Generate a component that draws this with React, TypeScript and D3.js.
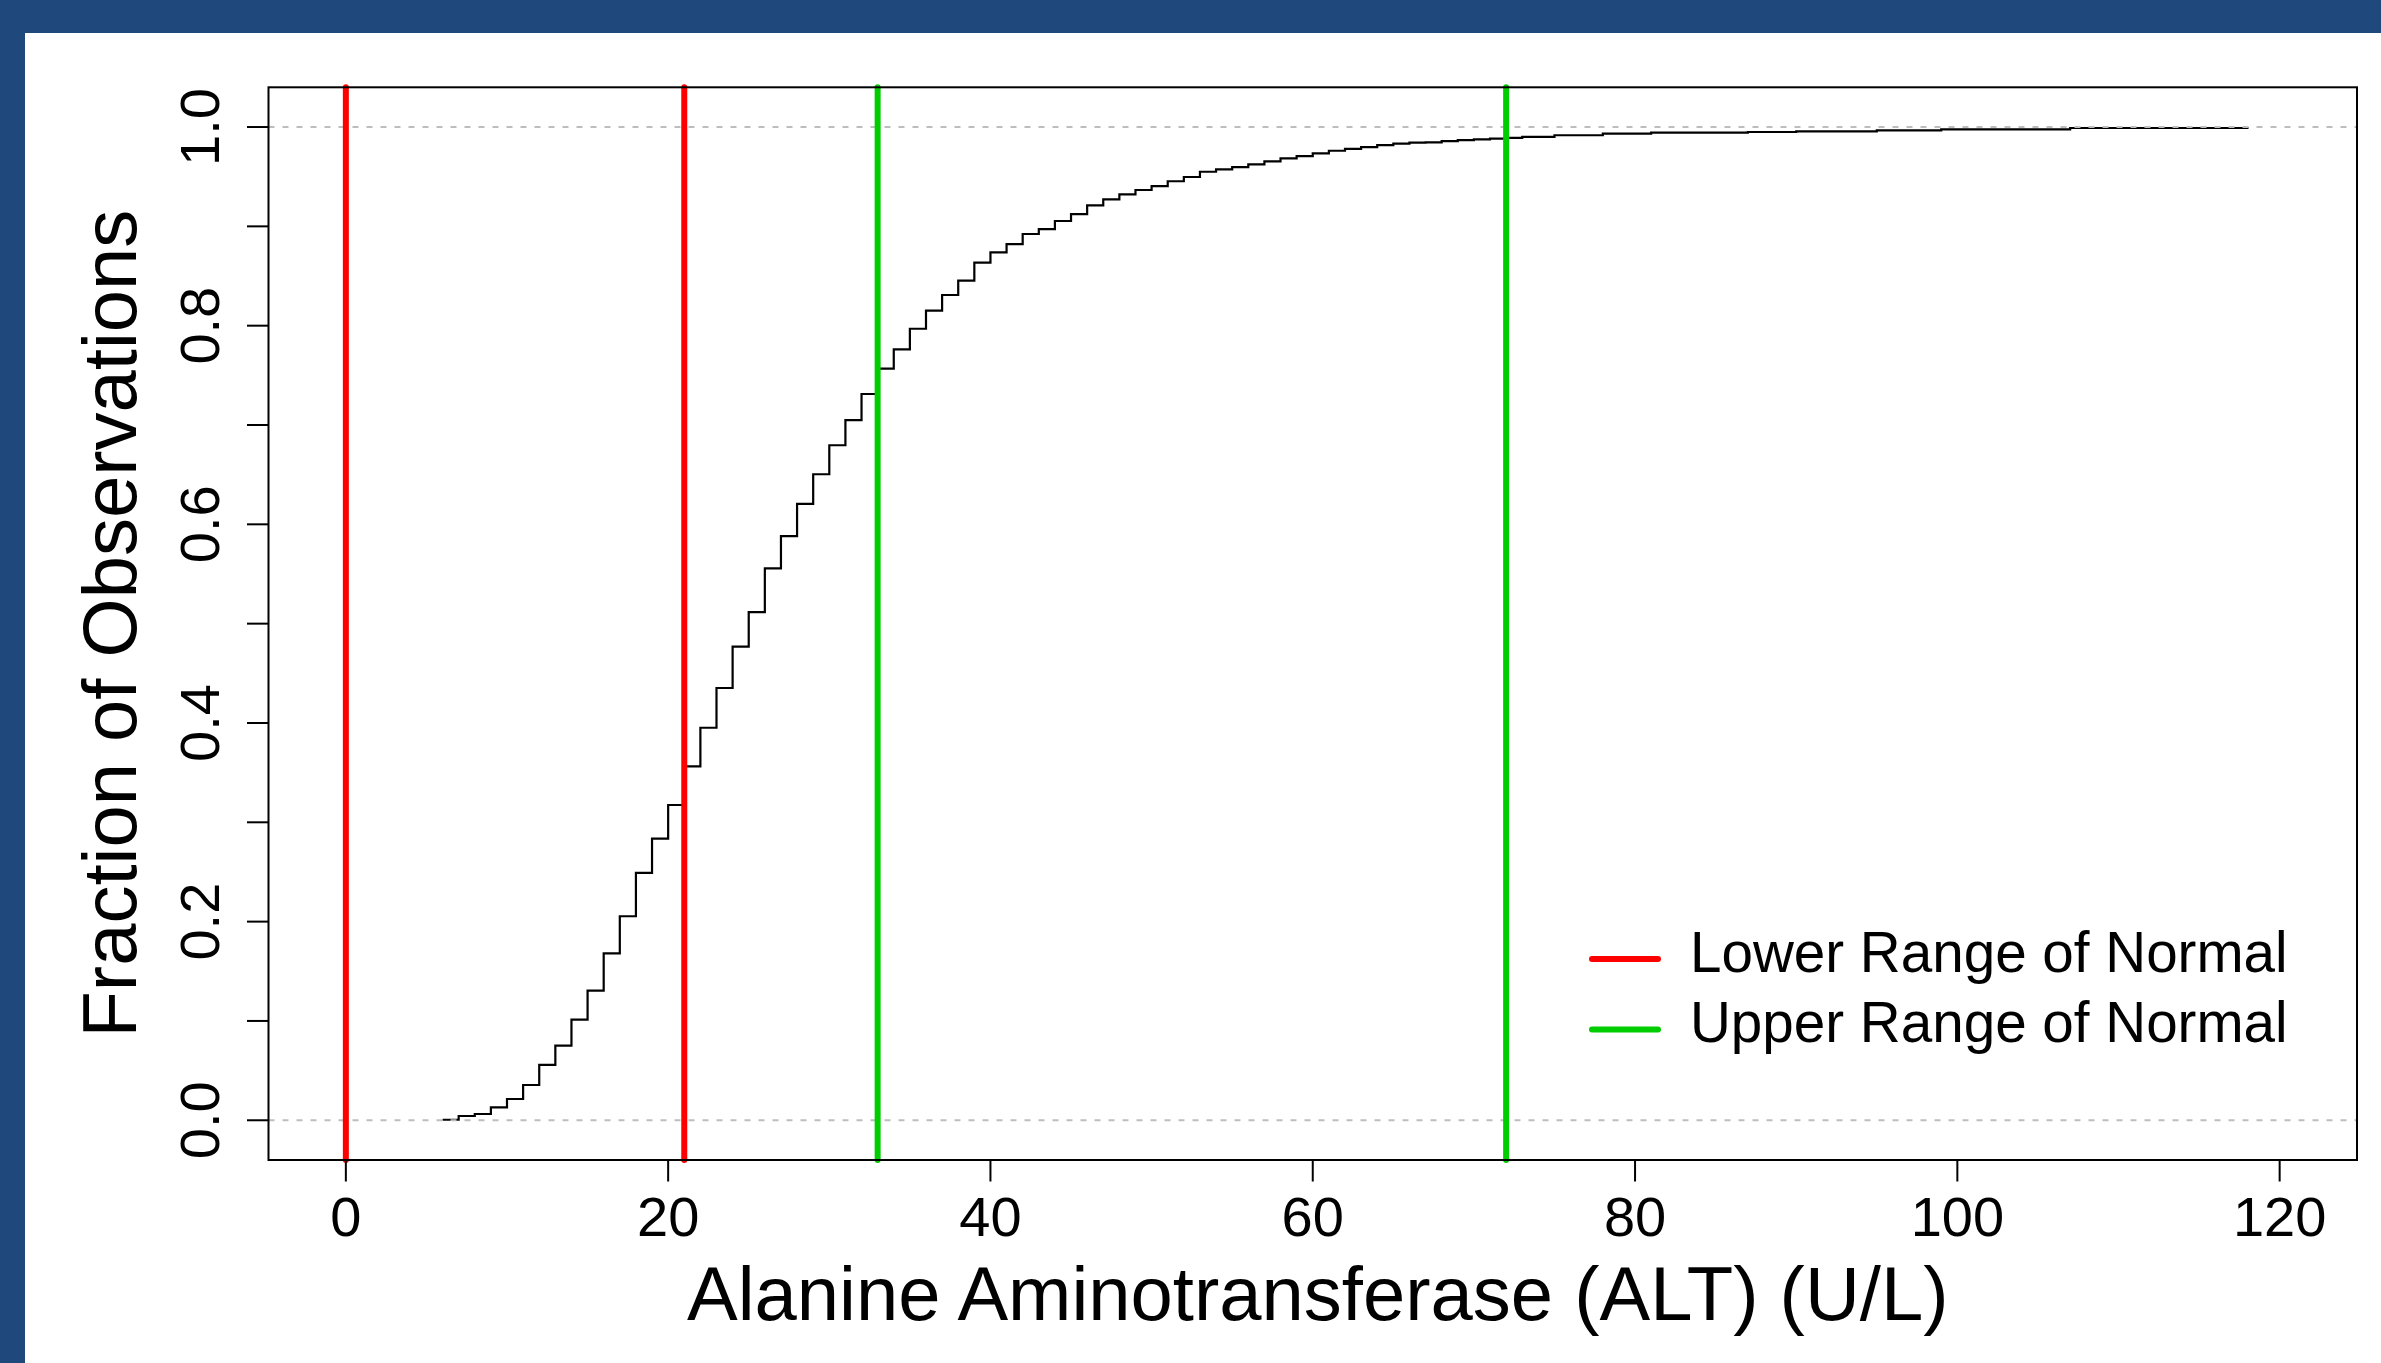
import React from "react";
import * as d3 from "d3";

// ALT value (U/L) at each ECDF knot
const altValues = [
  6, 7, 8, 9, 10, 11, 12, 13, 14, 15, 16, 17, 18, 19, 20, 21, 22, 23, 24, 25,
  26, 27, 28, 29, 30, 31, 32, 33, 34, 35, 36, 37, 38, 39, 40, 41, 42, 43, 44, 45,
  46, 47, 48, 49, 50, 51, 52, 53, 54, 55, 56, 57, 58, 59, 60, 61, 62, 63, 64, 65,
  66, 67, 68, 69, 70, 71, 72, 73, 75, 78, 81, 87, 90, 95, 99, 107, 118,
];
// cumulative fraction of observations at each knot
const cumFraction = [
  0.0005, 0.0043, 0.0063, 0.013, 0.0214, 0.0355, 0.0557, 0.0751, 0.1013, 0.1305,
  0.1681, 0.2054, 0.249, 0.2835, 0.3174, 0.3564, 0.3952, 0.4352, 0.4768, 0.5117,
  0.5557, 0.5882, 0.6205, 0.6504, 0.6796, 0.705, 0.7312, 0.7567, 0.7762, 0.7969,
  0.8151, 0.8309, 0.8453, 0.8634, 0.8738, 0.8822, 0.8923, 0.8973, 0.9054, 0.9124,
  0.9211, 0.9272, 0.9322, 0.9366, 0.9406, 0.9454, 0.9497, 0.955, 0.9574, 0.9597,
  0.9624, 0.9654, 0.9684, 0.9708, 0.9735, 0.9761, 0.9781, 0.9798, 0.9818, 0.9832,
  0.9842, 0.9846, 0.9859, 0.9869, 0.9876, 0.9883, 0.989, 0.99, 0.9917, 0.9934,
  0.9944, 0.995, 0.9957, 0.9967, 0.9977, 0.999, 1.0,
];

const lowerNormal = [0, 21];
const upperNormal = [33, 72];
const xTicks = [0, 20, 40, 60, 80, 100, 120];
const yTicks = [0, 0.1, 0.2, 0.3, 0.4, 0.5, 0.6, 0.7, 0.8, 0.9, 1.0];
const yLabelTicks = [0, 0.2, 0.4, 0.6, 0.8, 1.0];
const legendItems = ["Lower Range of Normal", "Upper Range of Normal"];

const W = 2381;
const H = 1363;
const FONT = "'Liberation Sans', Arial, Helvetica, sans-serif";
const RED = "#FF0000";
const GREEN = "#00CD00";
const BORDER = "#1F497D";

export default function App() {
  const left = 268.5;
  const right = 2357;
  const top = 87.3;
  const bottom = 1160;

  const x = d3.scaleLinear().domain([-4.8, 124.8]).range([left, right]);
  const y = d3.scaleLinear().domain([-0.04, 1.04]).range([bottom, top]);

  const pts: [number, number][] = altValues.map((v, i) => [v, cumFraction[i]]);
  const line = d3
    .line<[number, number]>()
    .x((d) => x(d[0]))
    .y((d) => y(d[1]))
    .curve(d3.curveStepAfter);

  return (
    <svg
      width={W}
      height={H}
      style={{ position: "fixed", left: 0, top: 0, background: "#fff" }}
      fontFamily={FONT}
    >
      <rect x={0} y={0} width={W} height={H} fill="#ffffff" />
      {/* blue frame */}
      <rect x={0} y={0} width={W} height={33} fill={BORDER} />
      <rect x={0} y={0} width={25} height={H} fill={BORDER} />

      {/* step curve */}
      <path d={line(pts) || ""} fill="none" stroke="#000" strokeWidth={2.2} />

      {/* 0 / 1 reference lines */}
      {[0, 1].map((v) => (
        <line
          key={"h" + v}
          x1={left}
          x2={right}
          y1={y(v)}
          y2={y(v)}
          stroke="#BDBDBD"
          strokeWidth={2}
          strokeDasharray="6 8"
        />
      ))}

      {/* normal range lines */}
      {lowerNormal.map((v) => (
        <line
          key={"r" + v}
          x1={x(v)}
          x2={x(v)}
          y1={top}
          y2={bottom}
          stroke={RED}
          strokeWidth={6}
          strokeLinecap="round"
        />
      ))}
      {upperNormal.map((v) => (
        <line
          key={"g" + v}
          x1={x(v)}
          x2={x(v)}
          y1={top}
          y2={bottom}
          stroke={GREEN}
          strokeWidth={6}
          strokeLinecap="round"
        />
      ))}

      {/* plot box */}
      <rect
        x={left}
        y={top}
        width={right - left}
        height={bottom - top}
        fill="none"
        stroke="#000"
        strokeWidth={2}
      />

      {/* x axis */}
      {xTicks.map((t) => (
        <g key={"xt" + t}>
          <line x1={x(t)} x2={x(t)} y1={bottom} y2={bottom + 21.5} stroke="#000" strokeWidth={2} />
          <text x={x(t)} y={1236} fontSize={56} textAnchor="middle" fill="#000">
            {t}
          </text>
        </g>
      ))}

      {/* y axis */}
      {yTicks.map((t) => (
        <line
          key={"yt" + t}
          x1={left - 21.5}
          x2={left}
          y1={y(t)}
          y2={y(t)}
          stroke="#000"
          strokeWidth={2}
        />
      ))}
      {yLabelTicks.map((t) => (
        <text
          key={"yl" + t}
          transform={`translate(219, ${y(t)}) rotate(-90)`}
          fontSize={56}
          textAnchor="middle"
          fill="#000"
        >
          {t.toFixed(1)}
        </text>
      ))}

      {/* axis titles */}
      <text x={(left + right) / 2 + 5} y={1320} fontSize={76} textAnchor="middle" fill="#000">
        Alanine Aminotransferase (ALT) (U/L)
      </text>
      <text
        transform={`translate(135.5, ${(top + bottom) / 2}) rotate(-90)`}
        fontSize={76}
        textAnchor="middle"
        fill="#000"
      >
        Fraction of Observations
      </text>

      {/* legend */}
      {legendItems.map((label, i) => (
        <g key={label}>
          <line
            x1={1592}
            x2={1658}
            y1={959 + i * 70.5}
            y2={959 + i * 70.5}
            stroke={i === 0 ? RED : GREEN}
            strokeWidth={6}
            strokeLinecap="round"
          />
          <text x={1690} y={971.7 + i * 70.5} fontSize={56.6} fill="#000">
            {label}
          </text>
        </g>
      ))}
    </svg>
  );
}
